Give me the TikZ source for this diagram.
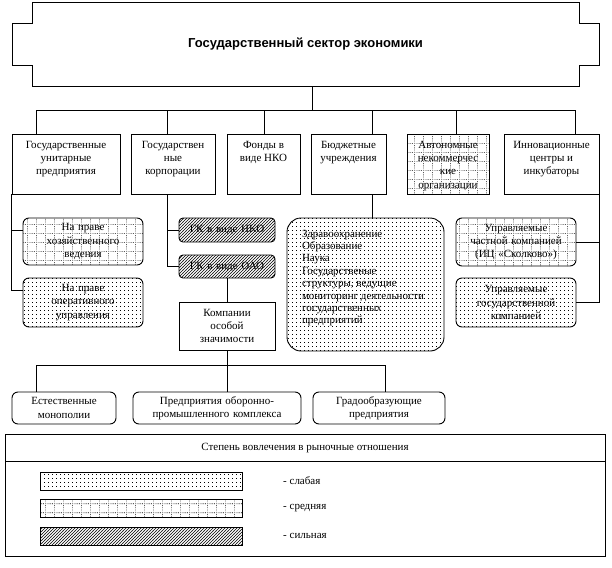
\documentclass[tikz,border=0pt]{standalone}
\usepackage{fontspec}
\setmainfont{Liberation Serif}
\newfontfamily\titlefont{Liberation Sans}
\usetikzlibrary{patterns}

\pgfdeclarepatternformonly{wdots}{\pgfqpoint{-1pt}{-1pt}}{\pgfqpoint{5pt}{5pt}}{\pgfqpoint{4pt}{4pt}}{%
  \pgfpathrectangle{\pgfqpoint{0pt}{0pt}}{\pgfqpoint{0.7pt}{0.7pt}}\pgfusepath{fill}}

\pgfdeclarepatternformonly{mgrid}{\pgfqpoint{-1pt}{-1pt}}{\pgfqpoint{10pt}{10pt}}{\pgfqpoint{9pt}{9pt}}{%
  \pgfpathrectangle{\pgfqpoint{0pt}{0pt}}{\pgfqpoint{0.65pt}{0.65pt}}%
  \pgfpathrectangle{\pgfqpoint{1.8pt}{0pt}}{\pgfqpoint{0.65pt}{0.65pt}}%
  \pgfpathrectangle{\pgfqpoint{3.6pt}{0pt}}{\pgfqpoint{0.65pt}{0.65pt}}%
  \pgfpathrectangle{\pgfqpoint{5.4pt}{0pt}}{\pgfqpoint{0.65pt}{0.65pt}}%
  \pgfpathrectangle{\pgfqpoint{7.2pt}{0pt}}{\pgfqpoint{0.65pt}{0.65pt}}%
  \pgfpathrectangle{\pgfqpoint{0pt}{1.8pt}}{\pgfqpoint{0.65pt}{0.65pt}}%
  \pgfpathrectangle{\pgfqpoint{0pt}{3.6pt}}{\pgfqpoint{0.65pt}{0.65pt}}%
  \pgfpathrectangle{\pgfqpoint{0pt}{5.4pt}}{\pgfqpoint{0.65pt}{0.65pt}}%
  \pgfpathrectangle{\pgfqpoint{0pt}{7.2pt}}{\pgfqpoint{0.65pt}{0.65pt}}%
  \pgfusepath{fill}}

\pgfdeclarepatternformonly{hatchx}{\pgfqpoint{-1pt}{-1pt}}{\pgfqpoint{4pt}{4pt}}{\pgfqpoint{3pt}{3pt}}{%
  \pgfsetlinewidth{0.45pt}%
  \pgfpathmoveto{\pgfqpoint{-0.1pt}{-0.1pt}}\pgfpathlineto{\pgfqpoint{3.1pt}{3.1pt}}\pgfusepath{stroke}}

\newcommand\toptext[3]{\parbox[c][#2][t]{#1}{\centering\rule{0pt}{14pt}#3}}

\begin{document}
\begin{tikzpicture}[x=1pt,y=-1pt,
  every node/.style={font=\fontsize{11}{13.4}\selectfont},
  conn/.style={line width=0.9pt},
  plainbox/.style={draw, line width=0.9pt, inner sep=0pt, align=center},
  weakbox/.style={plainbox, rounded corners=6pt, pattern=wdots},
  midbox/.style={plainbox, rounded corners=6pt, pattern=mgrid},
  strongbox/.style={plainbox, rounded corners=4pt, pattern=hatchx},
  legtext/.style={anchor=west, inner sep=0pt}]
\useasboundingbox (0,0) rectangle (612,567);

% title
\draw[conn] (32,2) -- (579,2) -- (579,23) -- (599,23) -- (599,65) -- (579,65) -- (579,86)
  -- (32,86) -- (32,65) -- (12,65) -- (12,23) -- (32,23) -- cycle;
\node[minimum width=547pt, minimum height=84pt, inner sep=0pt,
  font=\titlefont\bfseries\fontsize{13}{15}\selectfont] (title) at (305.5,44) {Государственный сектор экономики};

% second row
\node[plainbox] (gup) at (66,164) {\toptext{108pt}{60pt}{Государственные\\унитарные\\предприятия}};
\node[plainbox] (gk) at (173,164) {\toptext{84pt}{60pt}{Государствен\\ные\\корпорации}};
\node[plainbox] (fond) at (263.5,164) {\toptext{73pt}{60pt}{Фонды в\\виде НКО}};
\node[plainbox] (bud) at (348.5,164) {\toptext{75pt}{60pt}{Бюджетные\\учреждения}};
\node[plainbox, pattern=mgrid] (anko) at (448,164) {\toptext{82pt}{60pt}{Автономные\\некоммерчес\\кие\\организации}};
\node[plainbox] (inn) at (551.5,164) {\toptext{95pt}{60pt}{Инновационные\\центры и\\инкубаторы}};

\coordinate (busL) at (36,110);
\coordinate (busR) at (575,110);
\draw[conn] ([xshift=6.5pt]title.south) -- ++(0,24);
\draw[conn] (busL) -- (busR);
\draw[conn] (busL) -- (busL |- gup.north);
\draw[conn] ([xshift=-6pt]gk.north) -- ++(0,-24);
\draw[conn] ([xshift=0.5pt]fond.north) -- ++(0,-24);
\draw[conn] ([xshift=23.5pt]bud.north) -- ++(0,-24);
\draw[conn] ([xshift=8pt]anko.north) -- ++(0,-24);
\draw[conn] ([xshift=23.5pt]inn.north) -- ++(0,-24);

% sub boxes
\node[midbox, minimum width=120pt, minimum height=47pt, text width=116pt] (hoz) at (83,241.5) {На праве\\хозяйственного\\ведения};
\node[weakbox, minimum width=120pt, minimum height=49pt, text width=116pt] (oper) at (83,302.5) {На праве\\оперативного\\управления};
\node[strongbox, minimum width=96pt, minimum height=24pt, text width=92pt] (gknko) at (227,230) {ГК в виде НКО};
\node[strongbox, minimum width=96pt, minimum height=23pt, text width=92pt] (gkoao) at (227,266.5) {ГК в виде ОАО};
\node[plainbox, minimum width=96pt, minimum height=48pt, text width=92pt] (kos) at (227,326) {Компании\\особой\\значимости};
\node[weakbox, rounded corners=14pt] (zdrav) at (365.5,284.5)
  {\parbox[c][133pt][t]{157pt}{\raggedright\leftskip=15pt\fontsize{11}{12.4}\selectfont\rule{0pt}{19pt}Здравоохранение\\Образование\\Наука\\Государственые\\структуры, ведущие\\мониторинг деятельности\\государственных\\предприятий}};
\node[midbox, minimum width=120pt, minimum height=48pt, text width=116pt] (upch) at (516,242) {Управляемые\\частной компанией\\(ИЦ «Сколково»)};
\node[weakbox, minimum width=120pt, minimum height=49pt, text width=116pt] (upgos) at (516,302.5) {Управляемые\\государственной\\компанией};

\draw[conn] (gup.south west) |- ([yshift=12.5pt]oper.west);
\draw[conn] ([yshift=11.5pt]hoz.west) -- ++(-11,0);
\draw[conn] ([xshift=-6pt]gk.south) |- (gkoao.west);
\draw[conn] (gknko.west) -- ++(-12,0);
\draw[conn] (gkoao.south) -- (kos.north);
\draw[conn] ([xshift=23.5pt]bud.south) -- ([xshift=23.5pt]bud.south |- zdrav.north);
\draw[conn] (inn.south east) |- (upgos.east);
\draw[conn] (upch.east) -- (upch.east -| inn.south east);

% bottom row
\node[plainbox, rounded corners=6pt, minimum width=104pt, minimum height=32pt, text width=100pt] (estm) at (64,408) {Естественные\\монополии};
\node[plainbox, rounded corners=6pt, minimum width=168pt, minimum height=32pt, text width=164pt] (opk) at (217,408) {Предприятия оборонно-\\промышленного комплекса};
\node[plainbox, rounded corners=6pt, minimum width=132pt, minimum height=32pt, text width=128pt] (grad) at (379,408) {Градообразующие\\предприятия};

\coordinate (bus2L) at (36,365);
\coordinate (bus2R) at (385,365);
\draw[conn] (kos.south) -- (kos.south |- opk.north);
\draw[conn] (bus2L) -- (bus2R);
\draw[conn] (bus2L) -- (bus2L |- estm.north);
\draw[conn] (bus2R) -- (bus2R |- grad.north);

% legend
\draw[conn] (5,434) rectangle (605,556);
\draw[conn] (5,461) -- (605,461);
\node (lhead) at (305,448) {Степень вовлечения в рыночные отношения};
\node[plainbox, pattern=wdots, minimum width=202pt, minimum height=18pt] (sw1) at (141,481) {};
\node[plainbox, pattern=mgrid, minimum width=202pt, minimum height=18pt] (sw2) at (141,508) {};
\node[plainbox, pattern=hatchx, minimum width=202pt, minimum height=18pt] (sw3) at (141,536) {};
\node[legtext] (t1) at (283,481) {- слабая};
\node[legtext] (t2) at (283,508) {- средняя};
\node[legtext] (t3) at (283,536) {- сильная};
\end{tikzpicture}
\end{document}
